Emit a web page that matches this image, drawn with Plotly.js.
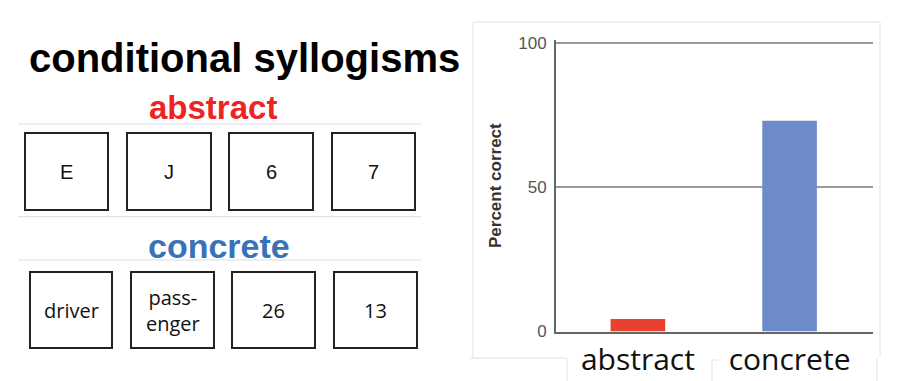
<!DOCTYPE html>
<html>
<head>
<meta charset="utf-8">
<script src="https://cdn.plot.ly/plotly-3.0.1.min.js"></script>
<style>html,body{margin:0;padding:0;background:#fff;}#chart{width:903px;height:381px;}</style>
</head>
<body>
<div id="chart"></div>
<script>
// ---- data ----
const categories = ['abstract', 'concrete'];
const percentCorrect = [4.3, 73];
const yTickValues = [0, 50, 100];
const yTickLabels = ['0', '50', '100'];
const pageTitle = 'conditional syllogisms';
const groupLabels = ['abstract', 'concrete'];
const abstractCards = ['E', 'J', '6', '7'];
const concreteCards = ['driver', 'pass-<br>enger', '26', '13'];
const yTitle = 'Percent correct';

// ---- layout helpers (pixel -> paper) ----
const W = 903, H = 381;
const px = x => x / W;
const py = y => 1 - y / H;

const barColors = ['#e9412e', '#6d8bcb'];

const traces = [{
  type: 'bar',
  x: categories,
  y: percentCorrect,
  width: [0.36, 0.36],
  marker: {color: barColors, line: {width: 0}},
  hoverinfo: 'x+y',
  showlegend: false
}];

const shapes = [];
const annotations = [];

// separator lines on the left panel
[124, 216.7, 260].forEach(y => shapes.push({
  type: 'line', xref: 'paper', yref: 'paper',
  x0: px(18), x1: px(421), y0: py(y), y1: py(y),
  line: {color: '#d6dde5', width: 1}
}));

// card boxes
const row1 = [[25, 108], [127, 211], [229, 313], [332, 415]];
const row2 = [[30, 112], [131, 214], [232, 315], [334, 417]];
function addRow(boxes, y0, y1, labels, font) {
  boxes.forEach((b, i) => {
    shapes.push({type: 'rect', xref: 'paper', yref: 'paper',
      x0: px(b[0]), x1: px(b[1]), y0: py(y1), y1: py(y0),
      line: {color: '#222', width: 2}, fillcolor: 'rgba(0,0,0,0)'});
    annotations.push({xref: 'paper', yref: 'paper',
      x: px((b[0] + b[1]) / 2), y: py((y0 + y1) / 2),
      xanchor: 'center', yanchor: 'middle', showarrow: false,
      text: labels[i], font: font});
  });
}
addRow(row1, 133, 210, abstractCards, {family: 'Liberation Sans, Arial, sans-serif', size: 20, color: '#111'});
addRow(row2, 272, 348, concreteCards, {family: 'Open Sans, sans-serif', size: 20, color: '#111'});

// big texts
annotations.push({xref: 'paper', yref: 'paper', x: px(27), y: py(58), xanchor: 'left', yanchor: 'middle',
  showarrow: false, text: '<b>' + pageTitle + '</b>',
  font: {family: 'Liberation Sans, Arial, sans-serif', size: 40, color: '#000'}});
annotations.push({xref: 'paper', yref: 'paper', x: px(213), y: py(107), xanchor: 'center', yanchor: 'middle',
  showarrow: false, text: '<b>' + groupLabels[0] + '</b>',
  font: {family: 'Liberation Sans, Arial, sans-serif', size: 33, color: '#ee2424'}});
annotations.push({xref: 'paper', yref: 'paper', x: px(219), y: py(246), xanchor: 'center', yanchor: 'middle',
  showarrow: false, text: '<b>' + groupLabels[1] + '</b>',
  font: {family: 'Liberation Sans, Arial, sans-serif', size: 34, color: '#3a72b8'}});

// faint panel border around the chart picture
const faint = {color: '#e2e2e2', width: 1};
[
  [473, 22, 880, 22], [473, 22, 473, 358], [880, 22, 880, 357],
  [470, 358, 567, 358], [567, 358, 567, 381],
  [712, 360, 718, 360], [712, 360, 712, 381], [877, 358, 877, 381]
].forEach(s => shapes.push({type: 'line', xref: 'paper', yref: 'paper',
  x0: px(s[0]), y0: py(s[1]), x1: px(s[2]), y1: py(s[3]), line: faint}));

// y scale: 0 -> 331.5px, 100 -> 42.7px; range extended slightly so the 100 gridline is drawn
const yPerUnit = (331.5 - 42.7) / 100;
const yMax = 101;

const layout = {
  width: W, height: H,
  margin: {l: 0, r: 0, t: 0, b: 0},
  paper_bgcolor: '#fff', plot_bgcolor: '#fff',
  showlegend: false,
  xaxis: {
    domain: [px(556), px(873)],
    type: 'category',
    range: [-0.54, 1.55],
    showgrid: false, zeroline: false,
    showline: true, linecolor: '#666', linewidth: 2,
    ticks: '',
    ticklabelstandoff: 0,
    tickfont: {family: 'Open Sans, sans-serif', size: 30, color: '#111'},
    fixedrange: true
  },
  yaxis: {
    domain: [py(331.5), py(331.5 - yMax * yPerUnit)],
    range: [0, yMax],
    tickvals: yTickValues, ticktext: yTickLabels,
    showgrid: true, gridcolor: '#9a9a9a', gridwidth: 2,
    zeroline: false,
    showline: true, linecolor: '#666', linewidth: 2,
    ticks: '',
    ticklabelstandoff: 4,
    tickfont: {family: 'Liberation Sans, Arial, sans-serif', size: 17, color: '#555'},
    title: {text: '<b>' + yTitle + '</b>', standoff: 12,
      font: {family: 'Liberation Sans, Arial, sans-serif', size: 17, color: '#333'}},
    fixedrange: true
  },
  shapes: shapes,
  annotations: annotations
};

Plotly.newPlot('chart', traces, layout, {displayModeBar: false, staticPlot: true});
</script>
</body>
</html>
